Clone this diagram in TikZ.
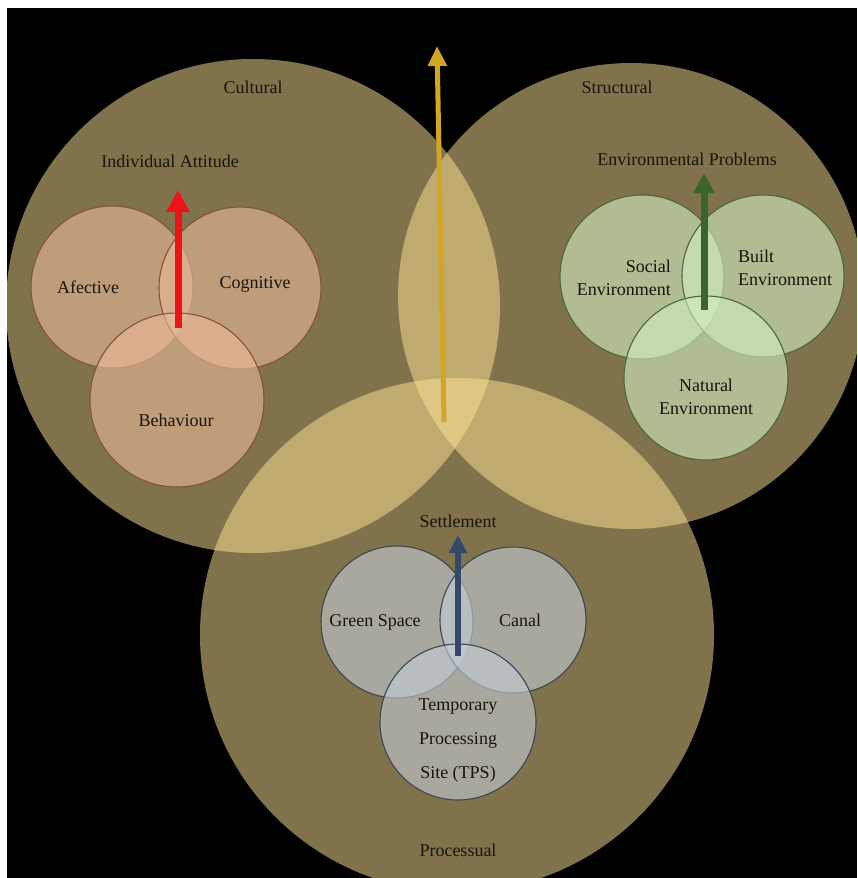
\documentclass[tikz,border=0pt]{standalone}
\usepackage{fontspec}
\setmainfont{Liberation Serif}
\usetikzlibrary{arrows.meta}
\definecolor{bigc}{RGB}{255,228,150}
\definecolor{pinkc}{RGB}{236,186,154}
\definecolor{pinkb}{RGB}{130,84,58}
\definecolor{greenc}{RGB}{210,238,194}
\definecolor{greenb}{RGB}{74,104,56}
\definecolor{bluec}{RGB}{196,204,214}
\definecolor{blueb}{RGB}{60,70,86}
\definecolor{txt}{RGB}{25,20,12}
\definecolor{redarr}{RGB}{236,20,24}
\definecolor{greenarr}{RGB}{60,100,45}
\definecolor{bluearr}{RGB}{52,72,105}
\definecolor{goldarr}{RGB}{210,165,35}
\begin{document}
\begin{tikzpicture}[x=1pt,y=-1pt,
  bigcirc/.style={circle, fill=bigc, fill opacity=0.5, inner sep=0pt, minimum size=#1},
  smallc/.style={circle, fill opacity=0.6, line width=1.1pt, inner sep=0pt, minimum size=#1},
  pinkcirc/.style={smallc=#1, fill=pinkc, draw=pinkb},
  greencirc/.style={smallc=#1, fill=greenc, draw=greenb},
  bluecirc/.style={smallc=#1, fill=bluec, draw=blueb},
  lbl/.style={text=txt, font=\fontsize{18}{21}\selectfont, inner sep=0pt},
  arr/.style={line width=#1}
]
\useasboundingbox (0,0) rectangle (857,878);
\fill[white] (0,0) rectangle (857,878);
\fill[black] (7,8) rectangle (857,878);
\begin{scope}
\clip (7,8) rectangle (857,878);
% big circles
\node[bigcirc=494pt] (cult) at (253,306) {};
\node[bigcirc=466pt] (struc) at (631,296) {};
\node[bigcirc=514pt] (proc) at (457,635) {};
% cultural small circles
\node[pinkcirc=162pt] (afec) at (112,287) {};
\node[pinkcirc=162pt] (cogn) at (240,288) {};
\node[pinkcirc=174pt] (behav) at (177,400) {};
% structural small circles
\node[greencirc=164pt] (soc) at (642,277) {};
\node[greencirc=162pt] (built) at (763,276) {};
\node[greencirc=164pt] (nat) at (706,378) {};
% processual small circles
\node[bluecirc=152pt] (green) at (397,622) {};
\node[bluecirc=146pt] (canal) at (513,620) {};
\node[bluecirc=156pt] (tps) at (458,722) {};
\end{scope}
% labels
\node[lbl] (lcult) at (253,87) {Cultural};
\node[lbl] (lind) at (170,161) {Individual Attitude};
\node[lbl] (lafec) at (88,287) {Afective};
\node[lbl] (lcogn) at (255,284) {Cognitive};
\node[lbl] (lbehav) at (176,420) {Behaviour};
\node[lbl] (lstruc) at (617,87) {Structural};
\node[lbl] (lenv) at (687,159) {Environmental Problems};
\node[lbl, align=right, anchor=east, font=\fontsize{18}{23}\selectfont] (lsoc) at (671,278) {Social\\Environment};
\node[lbl, align=left, anchor=west, font=\fontsize{18}{23}\selectfont] (lbuilt) at (738,268) {Built\\Environment};
\node[lbl, align=center, font=\fontsize{18}{23}\selectfont] (lnat) at (706,397) {Natural\\Environment};
\node[lbl] (lsett) at (458,521) {Settlement};
\node[lbl] (lgreen) at (375,622) {Green Space};
\node[lbl] (lcanal) at (520,620) {Canal};
\node[lbl, align=center, font=\fontsize{18}{34}\selectfont] (ltps) at (458,741) {Temporary\\Processing\\Site (TPS)};
\node[lbl] (lproc) at (458,850) {Processual};
% arrows
\coordinate (ra) at (178,328); \coordinate (rb) at (178,190);
\coordinate (ga) at (704,310); \coordinate (gb) at (704,173);
\coordinate (ba) at (458,656); \coordinate (bb) at (458,535);
\coordinate (ya) at (444,422); \coordinate (yb) at (437,46);
\draw[arr=7pt, redarr, -{Triangle[width=22pt,length=22pt]}] (ra) -- (rb);
\draw[arr=7pt, greenarr, -{Triangle[width=20pt,length=20pt]}] (ga) -- (gb);
\draw[arr=6pt, bluearr, -{Triangle[width=17pt,length=18pt]}] (ba) -- (bb);
\draw[arr=5pt, goldarr, -{Triangle[width=18pt,length=20pt]}] (ya) -- (yb);
\end{tikzpicture}
\end{document}
